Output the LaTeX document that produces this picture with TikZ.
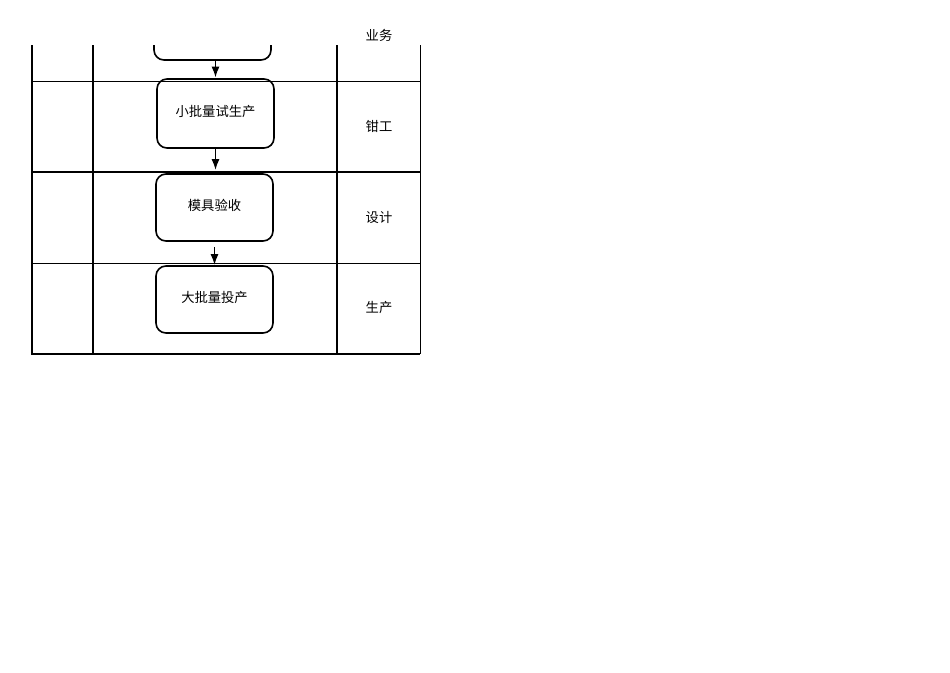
\documentclass[tikz,border=0pt]{standalone}
\usepackage{fontspec}
\newfontfamily\cjk{Noto Sans CJK SC}
\usetikzlibrary{arrows.meta}
\begin{document}
\begin{tikzpicture}[x=1pt,y=-1pt,
  stepbox/.style={draw,line width=1.6pt,rounded corners=10pt,inner sep=0pt,font=\cjk\fontsize{13.3}{15}\selectfont},
  lanetext/.style={font=\cjk\fontsize{13.3}{15}\selectfont,inner sep=0pt},
  thickline/.style={line width=1.4pt},
  thinline/.style={line width=0.8pt},
  flow/.style={line width=1.8pt,-{Latex[length=11pt,width=8pt]}}]
\useasboundingbox (0,0) rectangle (950,672);
% grid
\draw[thickline] (32,45) -- (32,354);
\draw[thickline] (93,45) -- (93,354);
\draw[thickline] (337,45) -- (337,354);
\draw[thinline] (420,45) -- (420,354);
\draw[thinline] (32,81) -- (420,81);
\draw[thickline] (32,172) -- (420,172);
\draw[thinline] (32,263) -- (420,263);
\draw[thickline] (31.3,354) -- (420.4,354);
% clipped top box
\begin{scope}
\clip (100,45) rectangle (330,80);
\node[stepbox,minimum width=117pt,minimum height=60pt] (b1) at (212.5,30) {};
\end{scope}
\node[stepbox,minimum width=117pt,minimum height=69pt] (b2) at (215.5,113.5) {\raisebox{4.5pt}{小批量试生产}};
\node[stepbox,minimum width=117pt,minimum height=67pt] (b3) at (214.5,207.5) {\raisebox{4.5pt}{模具验收}};
\node[stepbox,minimum width=117pt,minimum height=67pt] (b4) at (214.5,299.5) {\raisebox{4.5pt}{大批量投产}};
% arrows
\draw[flow,shorten >=0.5pt] (b2.north |- b1.south) -- (b2.north);
\draw[flow,shorten >=3pt] (b2.south) -- (b2.south |- b3.north);
\draw[flow,shorten <=5pt] (b3.south) -- (b4.north);
% lane labels
\node[lanetext] (l1) at (379,35) {业务};
\node[lanetext] (l2) at (379,126) {钳工};
\node[lanetext] (l3) at (379,217) {设计};
\node[lanetext] (l4) at (379,307) {生产};
\end{tikzpicture}
\end{document}
